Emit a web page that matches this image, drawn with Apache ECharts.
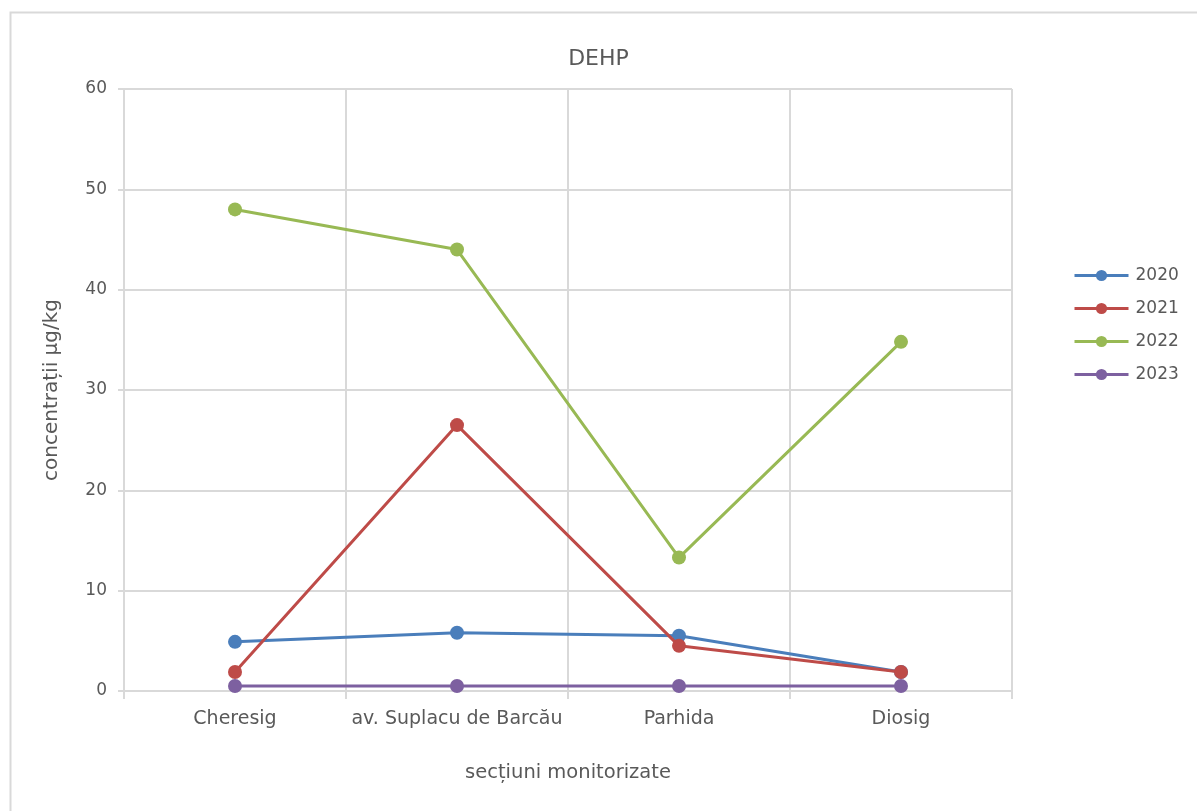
<!DOCTYPE html>
<html>
<head>
<meta charset="utf-8">
<script src="https://cdn.jsdelivr.net/npm/echarts@6/dist/echarts.min.js"></script>
<style>
  html, body { margin: 0; padding: 0; background: #fff; }
  #chart { width: 1197px; height: 811px; }
</style>
</head>
<body>
<div id="chart"></div>
<script>
// Monitoring sections (x axis)
const categories = ['Cheresig', 'av. Suplacu de Barcău', 'Parhida', 'Diosig'];
// DEHP concentrations, µg/kg, per year
const years = ['2020', '2021', '2022', '2023'];
const values2020 = [4.9, 5.8, 5.5, 1.9];
const values2021 = [1.9, 26.5, 4.5, 1.9];
const values2022 = [48.0, 44.0, 13.3, 34.8];
const values2023 = [0.5, 0.5, 0.5, 0.5];
const yTicks = [0, 10, 20, 30, 40, 50, 60];

const seriesData = [values2020, values2021, values2022, values2023];
const colors = ['#4a7ebb', '#be4b48', '#98b954', '#7d60a0'];
const fontFamily = '"DejaVu Sans", "Noto Sans", sans-serif';
const textColor = '#595959';
const gridColor = '#d9d9d9';

const chart = echarts.init(document.getElementById('chart'), null, { renderer: 'canvas' });

chart.setOption({
  animation: false,
  color: colors,
  textStyle: { fontFamily: fontFamily },
  graphic: [{
    type: 'rect',
    shape: { x: 10.5, y: 12.5, width: 1300, height: 900 },
    style: { fill: 'none', stroke: gridColor, lineWidth: 2 },
    silent: true
  }],
  title: {
    text: 'DEHP',
    left: 'center',
    top: 43,
    textStyle: { fontFamily: fontFamily, fontSize: 22, fontWeight: 'normal', color: textColor }
  },
  legend: {
    orient: 'vertical',
    left: 1073,
    top: 267,
    padding: 0,
    itemWidth: 54,
    itemHeight: 14,
    itemGap: 16,
    data: years,
    lineStyle: { width: 3 },
    textStyle: { fontFamily: fontFamily, fontSize: 17, color: textColor, padding: [0, 0, 0, 2] }
  },
  grid: { left: 124, right: 185, top: 89, bottom: 120, containLabel: false },
  xAxis: {
    type: 'category',
    data: categories,
    boundaryGap: true,
    name: 'secțiuni monitorizate',
    nameLocation: 'middle',
    nameGap: 72,
    nameTextStyle: { fontFamily: fontFamily, fontSize: 19.5, color: textColor },
    axisLine: { lineStyle: { color: gridColor, width: 2 } },
    axisTick: { show: true, interval: 0, length: 8, lineStyle: { color: gridColor, width: 2 } },
    axisLabel: { interval: 0, hideOverlap: false, fontFamily: fontFamily, fontSize: 19, color: textColor, margin: 19 },
    splitLine: { show: true, interval: 0, lineStyle: { color: gridColor, width: 2 } }
  },
  yAxis: {
    type: 'value',
    min: yTicks[0],
    max: yTicks[yTicks.length - 1],
    interval: 10,
    name: 'concentrații µg/kg',
    nameLocation: 'middle',
    nameGap: 62,
    nameRotate: 90,
    nameTextStyle: { fontFamily: fontFamily, fontSize: 20, color: textColor },
    axisLine: { show: true, lineStyle: { color: gridColor, width: 2 } },
    axisTick: { show: true, length: 6, lineStyle: { color: gridColor, width: 2 } },
    axisLabel: { fontFamily: fontFamily, fontSize: 17, color: textColor, margin: 17 },
    splitLine: { show: true, lineStyle: { color: gridColor, width: 2 } }
  },
  series: years.map((y, i) => ({
    name: y,
    type: 'line',
    data: seriesData[i],
    symbol: 'circle',
    symbolSize: 14,
    lineStyle: { width: 3, color: colors[i] },
    itemStyle: { color: colors[i] },
    z: 2 + i
  }))
});
</script>
</body>
</html>
